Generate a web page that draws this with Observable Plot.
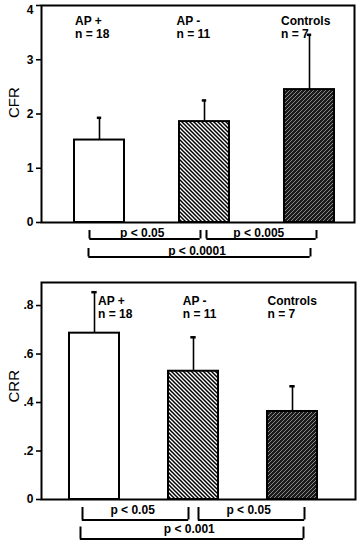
<!DOCTYPE html>
<html><head><meta charset="utf-8">
<script src="https://cdn.jsdelivr.net/npm/d3@7"></script>
<script src="https://cdn.jsdelivr.net/npm/@observablehq/plot@0.6"></script>
<style>
html,body{margin:0;padding:0;background:#fff;}
#chart svg{display:block;}
#chart svg [aria-label^="y-axis"] line, #chart svg [aria-label^="y-axis"] path{stroke-width:1.6px;}
</style></head><body>
<svg width="0" height="0" style="position:absolute">
<defs>
<pattern id="hatchLight" patternUnits="userSpaceOnUse" width="4" height="4">
<rect width="4" height="4" fill="#fff"/>
<path d="M0,0L4,4M3,-1L5,1M-1,3L1,5" stroke="#000" stroke-width="1.5"/>
</pattern>
<pattern id="hatchDark" patternUnits="userSpaceOnUse" width="4" height="4">
<rect width="4" height="4" fill="#1a1a1a"/>
<path d="M0,4L4,0M-1,1L1,-1M3,5L5,3" stroke="#8a8a8a" stroke-width="1"/>
</pattern>
</defs></svg>
<div id="chart"></div>
<script>
// ---- data ----
const groups = ["AP +", "AP -", "Controls"];
const groupN = [18, 11, 7];
const cfrMean = [1.52, 1.86, 2.45];
const cfrSD = [0.41, 0.39, 1.01];
const crrMean = [0.686, 0.529, 0.363];
const crrSD = [0.169, 0.14, 0.104];
const cfrTicks = [0, 1, 2, 3, 4];
const crrTicks = [0, 0.2, 0.4, 0.6, 0.8];
const cfrTests = [
  {from: "AP +", to: "AP -", label: "p < 0.05", row: 0},
  {from: "AP -", to: "Controls", label: "p < 0.005", row: 0},
  {from: "AP +", to: "Controls", label: "p < 0.0001", row: 1}
];
const crrTests = [
  {from: "AP +", to: "AP -", label: "p < 0.05", row: 0},
  {from: "AP -", to: "Controls", label: "p < 0.05", row: 0},
  {from: "AP +", to: "Controls", label: "p < 0.001", row: 1}
];

const FONT = "'Liberation Sans', Arial, Helvetica, sans-serif";
const fills = ["#ffffff", "url(#hatchLight)", "url(#hatchDark)"];

function panel(cfg) {
  const rows = groups.map((g, i) => ({group: g, n: groupN[i], mean: cfg.mean[i], sd: cfg.sd[i], hi: cfg.mean[i] + cfg.sd[i]}));
  const innerH = cfg.height - cfg.marginTop - cfg.marginBottom;
  const ppu = innerH / cfg.domain[1];
  const below = p => -p / ppu; // pixels below the baseline, in data units
  const [r0, r1] = cfg.xRange;
  const step = (r1 - r0) / (groups.length - cfg.padIn + 2 * cfg.padOut);
  const bw = step * (1 - cfg.padIn);
  const idx = g => groups.indexOf(g);
  const atEdge = d => d >= cfg.domain[1];
  const marks = [];
  rows.forEach((d, i) => marks.push(Plot.barY([d], {x: "group", y: "mean", fill: fills[i], stroke: "#000", strokeWidth: 2})));
  marks.push(Plot.ruleX(rows, {x: "group", y1: "mean", y2: "hi", stroke: "#000", strokeWidth: 1.6}));
  marks.push(Plot.tickY(rows, {x: "group", y: "hi", insetLeft: bw / 2 - 2.5, insetRight: bw / 2 - 2.5, stroke: "#000", strokeWidth: 2.5}));
  marks.push(Plot.frame({stroke: "#000", strokeWidth: 2}));
  // tick label sitting on the top edge is nudged down, as in the original
  marks.push(Plot.text(cfg.ticks.filter(atEdge), {
    y: d => d, frameAnchor: "left", text: cfg.tickFormat, textAnchor: "end",
    dx: -8, dy: 5, fontSize: 12, fontWeight: "bold", fill: "#000"
  }));
  rows.forEach((d, i) => marks.push(Plot.text([d], {
    x: "group", frameAnchor: "top", text: d => `${d.group}\nn = ${d.n}`,
    textAnchor: "start", lineAnchor: "top", lineHeight: 1.05,
    dx: cfg.labelDx[i], dy: cfg.labelDy, fontSize: 12, fontWeight: "bold", fill: "#000"
  })));
  cfg.tests.forEach((t, k) => {
    const [offL, offR] = cfg.bracketOff[k];
    const lineY = below(cfg.rowLine[t.row]);
    const topY = below(cfg.rowTop[t.row]);
    marks.push(Plot.ruleY([t], {y: () => lineY, x1: "from", x2: "to", insetLeft: bw / 2 + offL, insetRight: bw / 2 - offR, stroke: "#000", strokeWidth: 2}));
    marks.push(Plot.ruleX([t], {x: "from", y1: () => topY, y2: () => lineY, dx: offL, stroke: "#000", strokeWidth: 2}));
    marks.push(Plot.ruleX([t], {x: "to", y1: () => topY, y2: () => lineY, dx: offR, stroke: "#000", strokeWidth: 2}));
    const span = (idx(t.to) - idx(t.from)) * step;
    marks.push(Plot.text([t], {
      x: "from", y: () => lineY, text: "label", lineAnchor: "bottom",
      dx: (span + offL + offR) / 2 + cfg.textShift, dy: -cfg.textGap,
      fontSize: 12, fontWeight: "bold", fill: "#000"
    }));
  });
  marks.push(Plot.text([cfg.axisLabel], {
    frameAnchor: "left", text: d => d, rotate: -90, dx: -27, dy: cfg.axisLabelDy,
    fontSize: 15, fontWeight: "normal", fill: "#000"
  }));
  return Plot.plot({
    width: 359, height: cfg.height,
    marginTop: cfg.marginTop, marginBottom: cfg.marginBottom, marginLeft: 41, marginRight: cfg.marginRight,
    style: {fontFamily: FONT, fontSize: "12px", fontWeight: "bold", color: "#000", background: "#fff"},
    x: {domain: groups, range: cfg.xRange, paddingInner: cfg.padIn, paddingOuter: cfg.padOut, axis: null},
    y: {domain: cfg.domain, ticks: cfg.ticks, tickFormat: d => atEdge(d) ? "" : cfg.tickFormat(d), tickSize: 5, tickPadding: 3, label: null},
    marks
  });
}

const chart = document.getElementById("chart");
chart.append(panel({
  mean: cfrMean, sd: cfrSD, ticks: cfrTicks, tests: cfrTests, axisLabel: "CFR",
  tickFormat: d => String(d),
  height: 268, marginTop: 5, marginBottom: 46, marginRight: 5, domain: [0, 4],
  xRange: [20.4, 387.5], padIn: 0.52, padOut: 0.5,
  labelDx: [-24.5, -28, -28.5], labelDy: 11,
  rowTop: [8, 26], rowLine: [16.5, 34.5], textGap: 2.5, textShift: -3,
  bracketOff: [[-10, -4], [2, 7], [-11, 1]], axisLabelDy: 4
}));
chart.append(panel({
  mean: crrMean, sd: crrSD, ticks: crrTicks, tests: crrTests, axisLabel: "CRR",
  tickFormat: d => d === 0 ? "0" : String(d).replace(/^0/, ""),
  height: 275, marginTop: 14, marginBottom: 44, marginRight: 4, domain: [0, 0.895],
  xRange: [19.1, 366.5], padIn: 0.5, padOut: 0.5,
  labelDx: [3.5, -10.75, -25], labelDy: 14,
  rowTop: [8, 27.5], rowLine: [20.5, 39.5], textGap: 6.5, textShift: -3,
  bracketOff: [[-12, -5], [5, 12], [-14, 11]], axisLabelDy: 11.5
}));
</script>
</body></html>
